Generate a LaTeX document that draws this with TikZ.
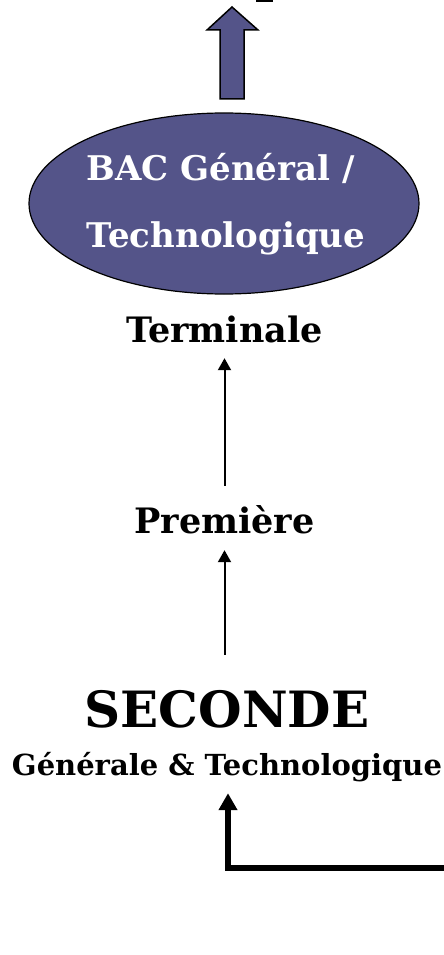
\documentclass[tikz,border=0pt]{standalone}
\usepackage{fontspec}
\setmainfont{DejaVu Serif}
\usetikzlibrary{shapes.geometric,arrows.meta}
\definecolor{bacbleu}{RGB}{84,84,137}
\tikzset{
  niveau/.style={anchor=base,inner sep=0pt,text height=30pt,text depth=8pt,font=\fontsize{35}{40}\selectfont\bfseries},
  lien/.style={line width=2pt,-{Triangle[width=13pt,length=12pt]}},
  gros/.style={line width=5.5pt,-{Triangle[width=18pt,length=17pt]}}
}
\begin{document}
\begin{tikzpicture}[x=1pt,y=-1pt]
\useasboundingbox (0,0) rectangle (444,955);
% fleche du haut
\draw [fill=bacbleu, line width=1.5pt] (220,99)--(220,30)--(207,30)--(232,7)--(258,30)--(244,30)--(244,99)--cycle;
\fill (256,0) rectangle (273,2);

\node [ellipse,draw,line width=1.2pt,fill=bacbleu,minimum width=390pt,minimum height=181pt] (bac) at (224,203.5) {};
\node [anchor=base,text=white,font=\fontsize{34}{40}\selectfont\bfseries] (bacA) at (220.5,180) {BAC Général /};
\node [anchor=base,text=white,font=\fontsize{34}{40}\selectfont\bfseries] (bacB) at (226,247) {Technologique};

\node [niveau] (term) at (224.5,342) {Terminale};
\node [niveau] (prem) at (224.5,533) {Première};
\node [anchor=base,inner sep=0pt,text height=46pt,text depth=8pt,font=\fontsize{50}{60}\selectfont\bfseries] (sec) at (227,727) {SECONDE};
\node [anchor=base,inner sep=0pt,text height=20pt,text depth=8pt,font=\fontsize{29}{34}\selectfont\bfseries] (gen) at (227,775) {Générale \& Technologique};

\draw [lien,shorten <=17pt,shorten >=8pt] (prem.north) -- (term.south);
\draw [lien,shorten <=26pt,shorten >=9pt] (sec.north-|prem.north) -- (prem.south);

\coordinate (entree) at (452,868);
\draw [gros] (entree) -| ([xshift=1pt,yshift=-10pt]gen.south);
\end{tikzpicture}
\end{document}
